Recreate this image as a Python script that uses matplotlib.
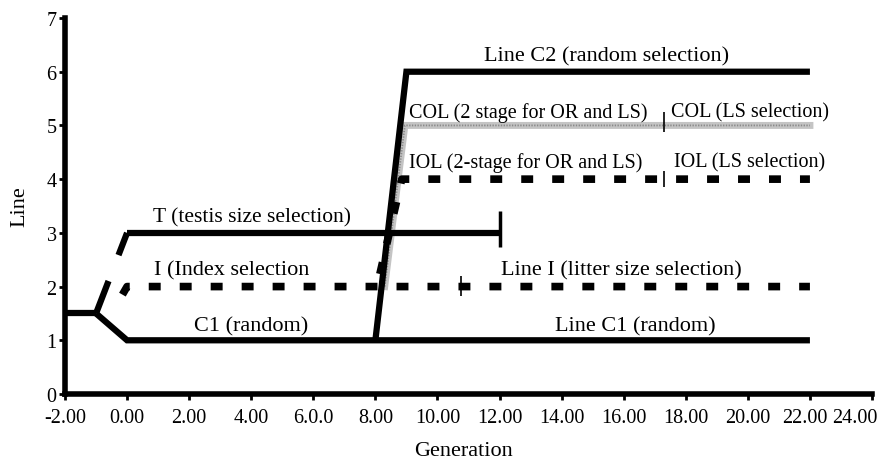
import matplotlib
matplotlib.use('Agg')
import matplotlib.pyplot as plt
from matplotlib.transforms import ScaledTranslation

plt.rcParams['font.family'] = ['Liberation Serif', 'DejaVu Serif']
plt.rcParams['lines.scale_dashes'] = False

# line paths (generation, line number)
base_x = [-2, -1]
base_y = [1.5, 1.5]
c1_x = [-1, 0, 22]
c1_y = [1.5, 1, 1]
t_ramp_x = [-1, 0]
t_ramp_y = [1.5, 3]
t_x = [0, 12]
t_y = [3, 3]
i_x = [-0.15, 0, 22]
i_y = [1.85, 2, 2]
c2_x = [8, 9, 22]
c2_y = [1, 6, 6]
col_x = [8.3, 8.95, 22]
col_y = [2, 5, 5]
iol_x = [8.05, 8.85, 22]
iol_y = [2, 4, 4]

# change of selection marks: (generation, ymin, ymax)
marks = [(10.75, 1.83, 2.2), (17.3, 3.85, 4.15), (17.3, 4.88, 5.25)]
t_end = (12, 2.73, 3.4)

xticks = list(range(-2, 25, 2))
xlabels = ['-2.00', '0.00', '2.00', '4.00', '6.0.0', '8.00', '10.00', '12.00',
           '14.00', '16.00', '18.00', '20.00', '22.00', '24.00']
yticks = list(range(0, 8))

# (text, x, y, ha, size)
notes = [
    ('Line C2 (random selection)', 15.45, 6.21, 'center', 16),
    ('COL (2 stage for OR and LS)', 9.09, 5.16, 'left', 14.5),
    ('COL (LS selection)', 17.51, 5.16, 'left', 14.5),
    ('IOL (2-stage for OR and LS)', 9.09, 4.23, 'left', 14.5),
    ('IOL (LS selection)', 17.61, 4.23, 'left', 14.5),
    ('T (testis size selection)', 0.83, 3.21, 'left', 15.5),
    ('I (Index selection', 3.37, 2.22, 'center', 16),
    ('C1 (random)', 4.0, 1.18, 'center', 16),
    ('Line I (litter size selection)', 15.94, 2.23, 'center', 16),
    ('Line C1 (random)', 16.38, 1.18, 'center', 16),
]

fig = plt.figure(figsize=(8.85, 4.64), dpi=100)
ax = fig.add_axes([65/885, 69/464, 807/885, 376/464])

# COL: grey dotted band
ax.plot(col_x, col_y, color='#c4c4c4', lw=5, solid_joinstyle='miter')
ax.plot(col_x, col_y, color='#8a8a8a', lw=1.3, linestyle=(0, (1, 1)))

ax.plot(iol_x, iol_y, color='black', lw=5.5, linestyle=(13, (8.6, 13.7)))
ax.plot(i_x, i_y, color='black', lw=5.5, linestyle=(0, (8.6, 13.7)))
ax.plot(t_ramp_x, t_ramp_y, color='black', lw=4.5, linestyle=(0, (25, 20)))

for xs, ys in [(base_x, base_y), (c1_x, c1_y), (t_x, t_y), (c2_x, c2_y)]:
    ax.plot(xs, ys, color='black', lw=4.5, solid_joinstyle='miter',
            solid_capstyle='butt')

ax.vlines(t_end[0], t_end[1], t_end[2], color='black', lw=2.5)
for mx, y0, y1 in marks:
    ax.vlines(mx, y0, y1, color='black', lw=1.2)

for txt, x, y, ha, sz in notes:
    ax.text(x, y, txt, ha=ha, va='baseline', fontsize=sz)

ax.set_xlim(-2, 24)
ax.set_ylim(0, 7)
ax.set_xticks(xticks)
ax.set_xticklabels(xlabels)
ax.set_yticks(yticks)

for s in ['top', 'right']:
    ax.spines[s].set_visible(False)
for s in ['left', 'bottom']:
    ax.spines[s].set_linewidth(4)
ax.tick_params(direction='out', length=4, width=2, labelsize=14.5)
ax.tick_params(axis='x', pad=6)
ax.tick_params(axis='y', pad=2)

# squeeze the last two labels like the original
lab = ax.get_xticklabels()
lab[-2].set_transform(lab[-2].get_transform() + ScaledTranslation(-0.05, 0, fig.dpi_scale_trans))
lab[-1].set_transform(lab[-1].get_transform() + ScaledTranslation(-0.17, 0, fig.dpi_scale_trans))

ax.set_xlabel('Generation', fontsize=16)
ax.set_ylabel('Line', fontsize=16)
ax.xaxis.set_label_coords(0.4944, -0.125)
ax.yaxis.set_label_coords(-0.0446, 0.5)

fig.savefig('out.png', dpi=100)
